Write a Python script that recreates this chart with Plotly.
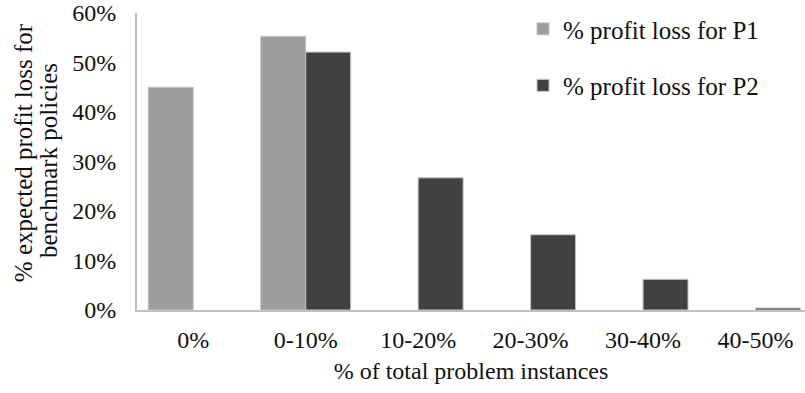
import plotly.graph_objects as go

categories = ["0%", "0-10%", "10-20%", "20-30%", "30-40%", "40-50%"]
p1_loss = [45.0, 55.3, None, None, None, None]
p2_loss = [None, 52.1, 26.7, 15.2, 6.2, 0.4]
series_names = ["% profit loss for P1", "% profit loss for P2"]
y_ticks = [0, 10, 20, 30, 40, 50, 60]
y_tick_labels = ["0%", "10%", "20%", "30%", "40%", "50%", "60%"]
y_title_lines = ["% expected profit loss for", "benchmark policies"]

FONT = "Liberation Serif, Times New Roman, serif"

# plot area in pixels (left edge, top, width, height)
PL, PT, PW, PH = 137, 9, 668, 301


def px_x(px):
    return (px - PL) / PW


def px_y(py):
    return 1.0 - (py - PT) / PH


fig = go.Figure()
fig.add_trace(go.Bar(
    x=categories, y=p1_loss, name=series_names[0], legendgroup="p1",
    marker=dict(color="#9d9d9d", line=dict(color="#c4c4c4", width=1)),
))
fig.add_trace(go.Bar(
    x=categories, y=p2_loss, name=series_names[1], legendgroup="p2",
    marker=dict(color="#414141", line=dict(color="#c4c4c4", width=1)),
))

# two-line rotated y-axis title
for text, cx, cy in [(y_title_lines[0], 23, 150), (y_title_lines[1], 48, 159)]:
    fig.add_annotation(
        text=text, textangle=-90, showarrow=False,
        xref="paper", yref="paper", x=px_x(cx), y=px_y(cy),
        xanchor="center", yanchor="middle",
        font=dict(family=FONT, size=25, color="#111111"),
    )

fig.update_layout(
    width=805, height=393,
    margin=dict(l=PL, r=0, t=PT, b=393 - PT - PH),
    paper_bgcolor="white", plot_bgcolor="white",
    barmode="group", bargap=0.2, bargroupgap=0,
    font=dict(family=FONT, size=24, color="#111111"),
    legend=dict(
        x=px_x(523), y=px_y(2), xanchor="left", yanchor="top",
        font=dict(family=FONT, size=25, color="#111111"),
        bgcolor="rgba(0,0,0,0)", traceorder="grouped", tracegroupgap=21,
        itemwidth=30,
    ),
    xaxis=dict(
        range=[-0.5, 5.44],
        showline=True, linecolor="#c0c0c0", linewidth=2,
        ticks="", ticklabelstandoff=7,
        tickfont=dict(family=FONT, size=24),
        title=dict(text="% of total problem instances",
                   font=dict(family=FONT, size=24), standoff=10),
    ),
    yaxis=dict(
        range=[0, 60], tickmode="array", tickvals=y_ticks, ticktext=y_tick_labels,
        showgrid=False, zeroline=False, ticklabeloverflow="allow",
        showline=True, linecolor="#c0c0c0", linewidth=2,
        ticks="", ticklabelstandoff=14,
        tickfont=dict(family=FONT, size=24),
    ),
)

fig.write_html("out.html")
